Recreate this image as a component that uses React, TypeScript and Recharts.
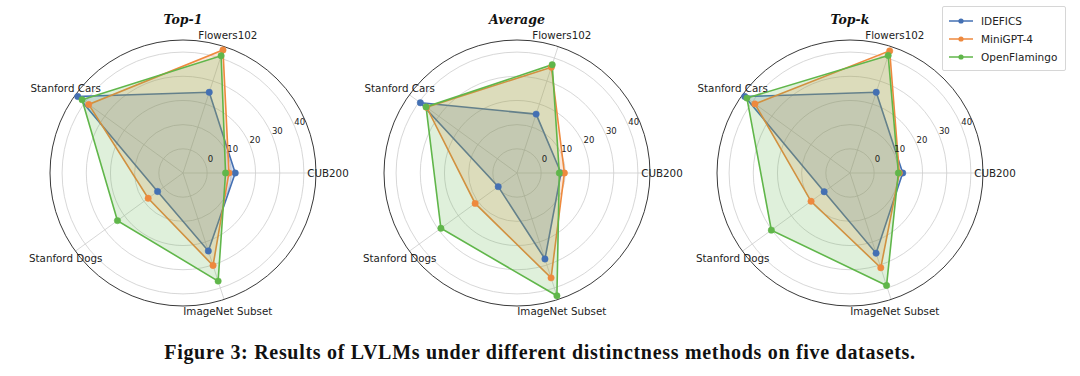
import { RadarChart, PolarGrid, PolarAngleAxis, PolarRadiusAxis, Radar, Legend } from 'recharts'

// ─── Data ─────────────────────────────────────────────────────────────────────

const DATASETS = ['CUB200', 'Flowers102', 'Stanford Cars', 'Stanford Dogs', 'ImageNet Subset']
const MODELS = ['IDEFICS', 'MiniGPT-4', 'OpenFlamingo']
const RADIUS_TICKS = [0, 10, 20, 30, 40]

const TOP1_IDEFICS = [11.6, 25.1, 43.8, 3.0, 23.9]
const TOP1_MINIGPT = [9.0, 43.5, 38.2, 7.8, 30.2]
const TOP1_FLAMINGO = [7.6, 41.0, 41.6, 23.5, 37.0]

const AVG_IDEFICS = [8.2, 15.6, 39.4, -0.4, 27.4]
const AVG_MINIGPT = [9.6, 36.0, 36.2, 11.4, 35.6]
const AVG_FLAMINGO = [7.5, 37.1, 36.5, 28.9, 43.4]

const TOPK_IDEFICS = [11.8, 25.1, 43.8, 3.2, 24.9]
const TOPK_MINIGPT = [10.4, 43.1, 38.6, 9.9, 31.2]
const TOPK_FLAMINGO = [10.0, 41.1, 42.7, 30.2, 38.9]

// ─── Constants ────────────────────────────────────────────────────────────────

const SANS = "'DejaVu Sans', Verdana, sans-serif"
const COLORS = ['#4470b3', '#ee893e', '#60b64a']
const OUTER_R = 133
const CX = 180
const CY = 173
const ANGLE_TICKS = DATASETS.map((_, i) => i)

// numeric slot index on the angle axis keeps the ticks and the polygons in step
function buildRows(series: number[][]) {
  return DATASETS.map((name, i) => {
    const row: Record<string, string | number> = { slot: i, name }
    MODELS.forEach((m, j) => { row[m] = series[j][i] })
    return row
  })
}

const PANELS = [
  { title: 'Top-1', center: 183, data: buildRows([TOP1_IDEFICS, TOP1_MINIGPT, TOP1_FLAMINGO]) },
  { title: 'Average', center: 517, data: buildRows([AVG_IDEFICS, AVG_MINIGPT, AVG_FLAMINGO]) },
  { title: 'Top-k', center: 850, data: buildRows([TOPK_IDEFICS, TOPK_MINIGPT, TOPK_FLAMINGO]) },
]

// ─── Ticks ────────────────────────────────────────────────────────────────────

function AngleTick(props: any) {
  const { x, y, payload } = props
  return (
    <text x={x} y={y} textAnchor="middle" dominantBaseline="central"
      fontFamily={SANS} fontSize={10.3} fill="#222">
      {DATASETS[payload.value]}
    </text>
  )
}

function RadiusTick(props: any) {
  const { x, y, payload } = props
  return (
    <text x={x + 5} y={y - 5} textAnchor="middle" dominantBaseline="central"
      fontFamily={SANS} fontSize={8.5} fill="#222">
      {payload.value}
    </text>
  )
}

function LegendBox(props: any) {
  const items = props.payload ?? []
  return (
    <div style={{
      border: '1px solid #d6d6d6', borderRadius: 2, background: '#fff',
      padding: '5px 8px 4px 5px', fontFamily: SANS, fontSize: 10.5, color: '#222',
    }}>
      {items.map((it: any) => (
        <div key={it.value} style={{ display: 'flex', alignItems: 'center', height: 18 }}>
          <svg width={26} height={10} style={{ marginRight: 7 }}>
            <line x1={1} y1={5} x2={25} y2={5} stroke={it.color} strokeWidth={1.5} />
            <circle cx={13} cy={5} r={2.6} fill={it.color} />
          </svg>
          <span>{it.value}</span>
        </div>
      ))}
    </div>
  )
}

// ─── Panel ────────────────────────────────────────────────────────────────────

function Panel({ title, center, data, legend }: { title: string; center: number; data: any[]; legend?: boolean }) {
  const width = legend ? 410 : 364
  return (
    <div style={{ position: 'absolute', left: center - CX, top: 0, width, height: 330 }}>
      <div style={{
        position: 'absolute', left: 0, width: CX * 2, top: 12, textAlign: 'center',
        fontFamily: "'DejaVu Serif', serif", fontWeight: 700, fontStyle: 'italic', fontSize: 12.5,
        lineHeight: '16px', color: '#111', zIndex: 2,
      }}>
        {title}
      </div>
      <RadarChart width={width} height={330} data={data} cx={CX} cy={CY}
        outerRadius={OUTER_R} startAngle={0} endAngle={360}
        margin={{ top: 0, right: 0, bottom: 0, left: 0 }}>
        <PolarGrid gridType="circle" stroke="#cdcdcd" strokeWidth={0.8} />
        <PolarGrid gridType="circle" radialLines={false} polarRadius={[OUTER_R]} stroke="#222" strokeWidth={0.9} />
        <PolarAngleAxis dataKey="slot" type="number" domain={[0, DATASETS.length]} ticks={ANGLE_TICKS}
          tick={AngleTick} tickLine={false} axisLine={false} tickSize={12} />
        <PolarRadiusAxis angle={22.5} domain={[-10, 45]} ticks={RADIUS_TICKS} type="number"
          tick={RadiusTick} axisLine={false} tickLine={false} allowDataOverflow />
        {MODELS.map((m, i) => (
          <Radar key={m} name={m} dataKey={m} stroke={COLORS[i]} strokeWidth={1.6}
            fill={COLORS[i]} fillOpacity={0.2}
            dot={{ r: 3.2, fill: COLORS[i], stroke: COLORS[i], strokeWidth: 0.5, fillOpacity: 1 }}
            isAnimationActive={false} />
        ))}
        {legend && (
          <Legend content={LegendBox}
            wrapperStyle={{ position: 'absolute', left: 272, top: 6, width: 'auto' }} />
        )}
      </RadarChart>
    </div>
  )
}

// ─── App ──────────────────────────────────────────────────────────────────────

export default function App() {
  return (
    <div style={{ position: 'absolute', left: 0, top: 0, width: 1080, height: 376, background: '#fff', overflow: 'hidden' }}>
      {PANELS.map((p, i) => (
        <Panel key={p.title} title={p.title} center={p.center} data={p.data} legend={i === 2} />
      ))}
      <div style={{
        position: 'absolute', left: 0, top: 340, width: 1080, textAlign: 'center', lineHeight: '24px',
        fontFamily: "'Liberation Serif', serif", fontWeight: 700, fontSize: 20, letterSpacing: 0.7, color: '#111',
      }}>
        Figure 3: Results of LVLMs under different distinctness methods on five datasets.
      </div>
    </div>
  )
}
